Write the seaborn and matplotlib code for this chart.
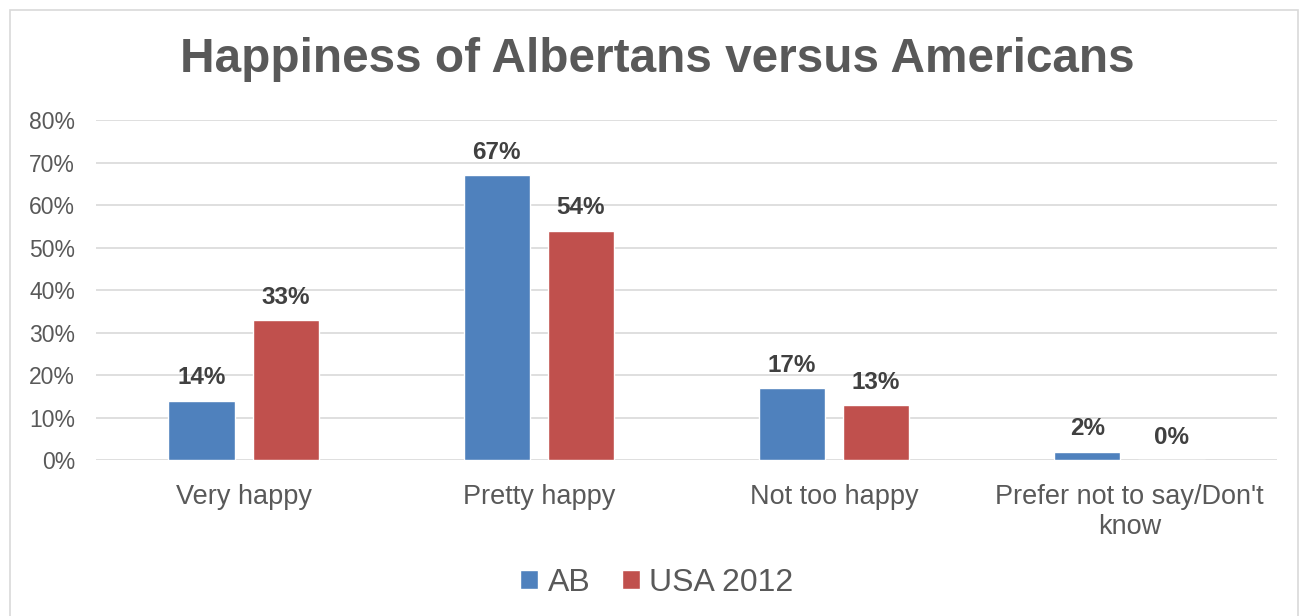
import matplotlib
matplotlib.use("Agg")
import matplotlib.pyplot as plt
from matplotlib.patches import Rectangle
import seaborn as sns
import pandas as pd

categories = ["Very happy", "Pretty happy", "Not too happy", "Prefer not to say/Don't\nknow"]
ab_values = [14, 67, 17, 2]
usa_values = [33, 54, 13, 0]
series_names = ["AB", "USA 2012"]
y_ticks = [0, 10, 20, 30, 40, 50, 60, 70, 80]
title = "Happiness of Albertans versus Americans"

df = pd.DataFrame({
    "category": categories * 2,
    "series": [series_names[0]] * 4 + [series_names[1]] * 4,
    "value": ab_values + usa_values,
})

sns.set_theme(style="white")
plt.rcParams["font.family"] = ["Liberation Sans", "DejaVu Sans"]

fig = plt.figure(figsize=(13.07, 6.16), dpi=100)
ax = fig.add_axes([0.0735, 0.2532, 0.9035, 0.5518])

palette = {"AB": "#4f81bd", "USA 2012": "#c0504d"}
sns.barplot(data=df, x="category", y="value", hue="series", palette=palette,
            width=0.57, gap=0.21, saturation=1, ax=ax, legend=True)

ax.set_ylim(0, 80)
ax.set_xlim(-0.5, 3.5)
ax.set_yticks(y_ticks)
ax.set_yticklabels([f"{t}%" for t in y_ticks], fontsize=16.5, color="#595959")
ax.tick_params(axis="x", labelsize=19.5, colors="#595959", pad=17, length=0)
ax.tick_params(axis="y", length=0, pad=15)
ax.set_xlabel("")
ax.set_ylabel("")
for s in ax.spines.values():
    s.set_visible(False)
ax.yaxis.grid(True, color="#d9d9d9", linewidth=1.2)
ax.set_axisbelow(True)

for container in ax.containers:
    ax.bar_label(container, labels=[f"{v:.0f}%" for v in container.datavalues],
                 padding=8, fontsize=17.5, fontweight="bold", color="#404040")

handles, labels = ax.get_legend_handles_labels()
ax.legend(handles, labels, loc="center", bbox_to_anchor=(657 / 1307, 1 - 583 / 616),
          bbox_transform=fig.transFigure, ncol=2, frameon=False, fontsize=23,
          handlelength=0.55, handleheight=0.55, handletextpad=0.3, columnspacing=1.0,
          labelcolor="#595959")

fig.text(657 / 1307, 1 - 60 / 616, title, ha="center", va="center",
         fontsize=34.4, fontweight="bold", color="#595959")

fig.patches.append(Rectangle((10 / 1307, -0.05), 1288 / 1307, 1.05 - 10 / 616,
                             transform=fig.transFigure, fill=False,
                             edgecolor="#d9d9d9", linewidth=1.2))

fig.savefig("out.png", dpi=100, facecolor="white")
